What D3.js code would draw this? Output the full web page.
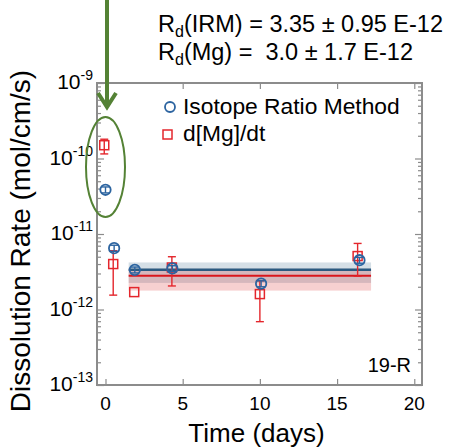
<!DOCTYPE html>
<html>
<head>
<meta charset="utf-8">
<script src="https://cdn.jsdelivr.net/npm/d3@7"></script>
<style>
  body { margin: 0; background: #fff; }
  svg { font-family: "Liberation Sans", Arial, sans-serif; }
</style>
</head>
<body>
<div id="chart"></div>
<script>
// data
var timeIRM = [0, 0.56, 1.9, 4.33, 10.08, 16.45];
var rateIRM = [3.85e-11, 6.5e-12, 3.35e-12, 3.5e-12, 2.2e-12, 4.5e-12];
var lowIRM = [3.5e-11, 5.9e-12, 3.05e-12, 3.2e-12, 2.0e-12, 4.1e-12];
var highIRM = [4.2e-11, 7.1e-12, 3.65e-12, 3.8e-12, 2.4e-12, 4.9e-12];

var timeMg = [-0.08, 0.5, 1.86, 4.3, 10.0, 16.33];
var rateMg = [1.5e-10, 4.0e-12, 1.7e-12, 3.6e-12, 1.6e-12, 5.1e-12];
var lowMg = [1.15e-10, 1.55e-12, 1.7e-12, 2.05e-12, 6.9e-13, 2.75e-12];
var highMg = [1.8e-10, 6.0e-12, 1.7e-12, 5.0e-12, 2.4e-12, 7.5e-12];

// fitted means and bands (t from 1.5 to 17.2)
var fitSpan = [1.5, 17.2];
var meanIRM = 3.35e-12, bandIRM = [2.25e-12, 4.2e-12];
var meanMg = 2.8e-12, bandMg = [1.78e-12, 3.45e-12];

var xTicks = [0, 5, 10, 15, 20];
var yExp = [-13, -12, -11, -10, -9];
var legendLabels = ["Isotope Ratio Method", "d[Mg]/dt"];

var blue = "#2c64a0", red = "#e4262c", green = "#548235", frame = "#8c8c8c";

var W = 451, H = 448;
var pL = 97, pR = 422, pT = 83, pB = 385;

var svg = d3.select("#chart").append("svg")
    .attr("width", W)
    .attr("height", H);

var x = d3.scaleLinear().domain([-0.55, 20.5]).range([pL, pR]);
var y = d3.scaleLog().domain([1e-13, 1e-9]).range([pB, pT]);

var majors = yExp.map(function (e) { return Math.pow(10, e); });
var minors = [];
yExp.slice(0, -1).forEach(function (e) {
    for (var k = 2; k < 10; k++) minors.push(k * Math.pow(10, e));
});

// bands
function band(b, color, op) {
    svg.append("rect")
        .attr("x", x(fitSpan[0]))
        .attr("width", x(fitSpan[1]) - x(fitSpan[0]))
        .attr("y", y(b[1]))
        .attr("height", y(b[0]) - y(b[1]))
        .attr("fill", color)
        .attr("fill-opacity", op);
}
band(bandIRM, "#2e5e82", 0.2);
band(bandMg, "#d62728", 0.22);

svg.append("line")
    .attr("x1", x(fitSpan[0])).attr("x2", x(fitSpan[1]))
    .attr("y1", y(meanIRM)).attr("y2", y(meanIRM))
    .attr("stroke", "#2b5a80").attr("stroke-width", 2.5);
svg.append("line")
    .attr("x1", x(fitSpan[0])).attr("x2", x(fitSpan[1]))
    .attr("y1", y(meanMg)).attr("y2", y(meanMg))
    .attr("stroke", "#d9161c").attr("stroke-width", 2);

// axes (ticks inward)
function styleAxis(g) {
    g.select(".domain").remove();
    g.selectAll(".tick line").attr("stroke", frame).attr("stroke-width", 1.2);
    g.selectAll("text").remove();
}
svg.append("g").attr("transform", "translate(" + pL + ",0)")
    .call(d3.axisLeft(y).tickValues(majors).tickSize(-7)).call(styleAxis);
svg.append("g").attr("transform", "translate(" + pL + ",0)")
    .call(d3.axisLeft(y).tickValues(minors).tickSize(-4)).call(styleAxis);
svg.append("g").attr("transform", "translate(" + pR + ",0)")
    .call(d3.axisRight(y).tickValues(majors).tickSize(-7)).call(styleAxis);
svg.append("g").attr("transform", "translate(" + pR + ",0)")
    .call(d3.axisRight(y).tickValues(minors).tickSize(-4)).call(styleAxis);
svg.append("g").attr("transform", "translate(0," + pB + ")")
    .call(d3.axisBottom(x).tickValues(xTicks).tickSize(-6)).call(styleAxis);
svg.append("g").attr("transform", "translate(0," + pT + ")")
    .call(d3.axisTop(x).tickValues(xTicks).tickSize(-6)).call(styleAxis);

svg.append("rect")
    .attr("x", pL).attr("y", pT)
    .attr("width", pR - pL).attr("height", pB - pT)
    .attr("fill", "none").attr("stroke", frame).attr("stroke-width", 2);

// tick labels
svg.append("g").selectAll("text")
    .data(xTicks)
    .enter().append("text")
    .attr("x", function (d) { return x(d); })
    .attr("y", pB + 25)
    .attr("text-anchor", "middle")
    .attr("font-size", 19)
    .text(function (d) { return d; });

var yl = svg.append("g").selectAll("text")
    .data(yExp)
    .enter().append("text")
    .attr("x", 93)
    .attr("y", function (d) { return y(Math.pow(10, d)) + 6; })
    .attr("text-anchor", "end")
    .attr("font-size", 21);
yl.append("tspan").text("10");
yl.append("tspan").attr("dy", -9).attr("font-size", 14).text(function (d) { return "-" + (-d); });

// axis titles
svg.append("text")
    .attr("x", (pL + pR) / 2 - 3)
    .attr("y", 442)
    .attr("text-anchor", "middle")
    .attr("font-size", 26)
    .text("Time (days)");
svg.append("text")
    .attr("transform", "translate(30," + ((67 + 415) / 2) + ") rotate(-90)")
    .attr("text-anchor", "middle")
    .attr("font-size", 28)
    .text("Dissolution Rate (mol/cm/s)");

// error bars
function errBars(t, lo, hi, color, cap, sw) {
    var g = svg.append("g").attr("stroke", color).attr("stroke-width", sw);
    t.forEach(function (d, i) {
        if (lo[i] === hi[i]) return;
        g.append("line").attr("x1", x(d)).attr("x2", x(d)).attr("y1", y(lo[i])).attr("y2", y(hi[i]));
        [lo[i], hi[i]].forEach(function (v) {
            g.append("line").attr("x1", x(d) - cap).attr("x2", x(d) + cap).attr("y1", y(v)).attr("y2", y(v));
        });
    });
}
errBars(timeMg, lowMg, highMg, red, 4, 1.4);

svg.append("g").selectAll("rect")
    .data(timeMg)
    .enter().append("rect")
    .attr("x", function (d) { return x(d) - 4.5; })
    .attr("y", function (d, i) { return y(rateMg[i]) - 4.5; })
    .attr("width", 9).attr("height", 9)
    .attr("fill", "none")
    .attr("stroke", red).attr("stroke-width", 1.5);

errBars(timeIRM, lowIRM, highIRM, blue, 4, 1.4);
svg.append("g").selectAll("circle")
    .data(timeIRM)
    .enter().append("circle")
    .attr("cx", function (d) { return x(d); })
    .attr("cy", function (d, i) { return y(rateIRM[i]); })
    .attr("r", 5.2)
    .attr("fill", "none")
    .attr("stroke", blue).attr("stroke-width", 1.8);

// legend
svg.append("circle").attr("cx", 170).attr("cy", 107).attr("r", 5)
    .attr("fill", "none").attr("stroke", blue).attr("stroke-width", 1.8);
svg.append("rect").attr("x", 163).attr("y", 130).attr("width", 9).attr("height", 9)
    .attr("fill", "none").attr("stroke", red).attr("stroke-width", 1.5);
svg.append("g").selectAll("text")
    .data(legendLabels)
    .enter().append("text")
    .attr("x", 183)
    .attr("y", function (d, i) { return 114 + i * 27; })
    .attr("font-size", 22.8)
    .text(function (d) { return d; });

// sample label
svg.append("text")
    .attr("x", 411).attr("y", 372)
    .attr("text-anchor", "end")
    .attr("font-size", 20)
    .text("19-R");

// fitted rates annotation
var notes = [["IRM", ") = 3.35 \u00b1 0.95 E-12"], ["Mg", ") =  3.0 \u00b1 1.7 E-12"]];
var nt = svg.append("g").selectAll("text")
    .data(notes)
    .enter().append("text")
    .attr("x", 158)
    .attr("y", function (d, i) { return 32 + i * 28; })
    .attr("font-size", 23.5)
    .attr("xml:space", "preserve")
    .style("white-space", "pre");
nt.append("tspan").text("R");
nt.append("tspan").attr("dy", 5).attr("font-size", 16).text("d");
nt.append("tspan").attr("dy", -5).text(function (d) { return "(" + d[0] + d[1]; });

// green highlight
svg.append("ellipse")
    .attr("cx", 105.5).attr("cy", 167).attr("rx", 19.5).attr("ry", 50)
    .attr("fill", "none").attr("stroke", green).attr("stroke-width", 2);
svg.append("line")
    .attr("x1", 107).attr("x2", 107).attr("y1", 0).attr("y2", 104)
    .attr("stroke", green).attr("stroke-width", 4);
svg.append("path")
    .attr("d", "M98,93 L107,107 L116,93")
    .attr("fill", "none").attr("stroke", green).attr("stroke-width", 4)
    .attr("stroke-linejoin", "miter");
</script>
</body>
</html>
